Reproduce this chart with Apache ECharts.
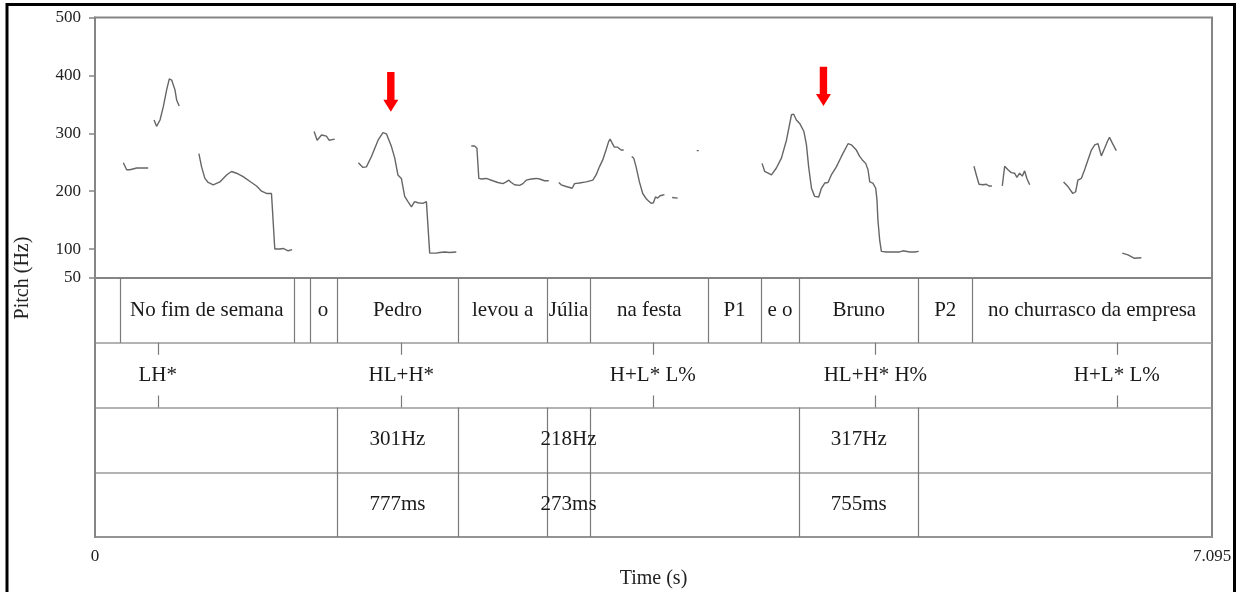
<!DOCTYPE html>
<html>
<head>
<meta charset="utf-8">
<title>Pitch contour with prosodic annotation</title>
<script src="https://cdn.jsdelivr.net/npm/echarts@6/dist/echarts.min.js"></script>
<style>
  html, body { margin: 0; padding: 0; background: #fff; }
  #chart { width: 1244px; height: 592px; }
</style>
</head>
<body>
<div id="chart"></div>
<script>
// ---- Pitch contour segments: [time (s), F0 (Hz)] ----
const segA = [[0.180,249],[0.201,237],[0.222,237],[0.265,240],[0.338,240]];
const segB = [[0.375,323],[0.391,312],[0.413,323],[0.434,346],[0.455,375],[0.472,394],[0.487,392],[0.508,375],[0.519,357],[0.535,347]];
const segC = [[0.660,265],[0.677,242],[0.698,222],[0.719,215],[0.751,211],[0.793,216],[0.836,228],[0.867,234],[0.899,231],[0.941,225],[0.994,215],[1.026,209],[1.058,200],[1.089,196],[1.121,196],[1.128,195],[1.142,100],[1.174,100],[1.195,101],[1.227,97],[1.252,99]];
const segD = [[1.392,303],[1.411,288],[1.439,297],[1.470,295],[1.487,288],[1.523,290]];
const segE = [[1.673,249],[1.702,241],[1.724,242],[1.756,260],[1.798,288],[1.829,301],[1.851,299],[1.883,277],[1.904,257],[1.924,228],[1.946,222],[1.967,191],[1.988,182],[2.010,173],[2.030,182],[2.051,180],[2.083,179],[2.105,182],[2.115,179],[2.126,93],[2.168,93],[2.189,94],[2.221,95],[2.253,94],[2.295,95]];
const segF = [[2.390,278],[2.411,278],[2.426,274],[2.438,222],[2.454,221],[2.485,222],[2.527,218],[2.559,215],[2.591,213],[2.612,216],[2.629,219],[2.644,215],[2.665,211],[2.697,210],[2.718,213],[2.739,219],[2.771,221],[2.803,222],[2.824,221],[2.855,218],[2.882,218]];
const segG = [[2.946,215],[2.961,211],[2.993,208],[3.031,205],[3.046,213],[3.077,214],[3.120,216],[3.162,219],[3.183,228],[3.204,242],[3.225,254],[3.246,271],[3.263,286],[3.272,290],[3.285,283],[3.299,276],[3.320,276],[3.342,271],[3.358,271]];
const segH = [[3.409,260],[3.422,257],[3.437,242],[3.458,216],[3.479,196],[3.504,186],[3.532,179],[3.547,180],[3.560,190],[3.574,188],[3.589,192],[3.602,193],[3.617,194]];
const segI = [[3.666,189],[3.701,188]];
const segJ = [[3.822,270],[3.835,270]];
const segK = [[4.237,248],[4.254,234],[4.297,228],[4.328,240],[4.360,257],[4.392,288],[4.424,332],[4.438,333],[4.455,323],[4.476,317],[4.503,303],[4.519,280],[4.533,242],[4.551,205],[4.571,191],[4.597,190],[4.614,205],[4.635,214],[4.656,215],[4.677,228],[4.709,242],[4.741,260],[4.783,282],[4.804,280],[4.836,271],[4.857,260],[4.874,254],[4.895,248],[4.910,237],[4.921,216],[4.941,214],[4.959,205],[4.967,185],[4.973,150],[4.984,116],[4.995,96],[5.027,95],[5.069,95],[5.111,95],[5.132,97],[5.175,95],[5.206,95],[5.232,96]];
const segL = [[5.583,243],[5.598,228],[5.615,212],[5.640,211],[5.662,212],[5.678,209],[5.697,209]];
const segM = [[5.763,209],[5.778,243],[5.799,237],[5.820,232],[5.841,231],[5.856,224],[5.873,231],[5.890,226],[5.905,235],[5.919,222],[5.937,211]];
const segN = [[6.152,216],[6.180,208],[6.211,196],[6.229,199],[6.243,219],[6.265,222],[6.286,237],[6.307,254],[6.329,271],[6.350,280],[6.371,282],[6.392,261],[6.413,274],[6.434,288],[6.444,293],[6.462,283],[6.487,270]];
const segO = [[6.525,93],[6.561,90],[6.603,84],[6.646,85]];
const contourSegments = [segA, segB, segC, segD, segE, segF, segG, segH, segI, segJ, segK, segL, segM, segN, segO];

// ---- Axes ----
const totalDuration = 7.095;
const pitchTicks = [50, 100, 200, 300, 400, 500];
const timeTicks = [0, 7.095];

// ---- Tier 1: words (interval boundaries and labels) ----
const wordTimes = [0, 0.159, 1.261, 1.363, 1.534, 2.308, 2.870, 3.146, 3.895, 4.229, 4.473, 5.229, 5.572, 7.095];
const wordLabels = ['', 'No fim de semana', '', 'o', 'Pedro', 'levou a', 'Júlia', 'na festa', 'P1', 'e o', 'Bruno', 'P2', 'no churrasco da empresa'];

// ---- Tier 2: tonal events (points) ----
const toneTimes = [0.398, 1.946, 3.543, 4.957, 6.490];
const toneLabels = ['LH*', 'HL+H*', 'H+L* L%', 'HL+H* H%', 'H+L* L%'];

// ---- Tiers 3 and 4: peak F0 and duration of the focused constituents ----
const measureTimes = [0, 1.534, 2.308, 2.870, 3.146, 4.473, 5.229, 7.095];
const peakLabels = ['', '301Hz', '', '218Hz', '', '317Hz', ''];
const durationLabels = ['', '777ms', '', '273ms', '', '755ms', ''];

// ---- Arrows marking the pitch peaks ----
const arrowTimes = [1.879, 4.627];
const arrowTopHz = [406, 415];
const arrowTipHz = [337, 347];

const serif = '"Liberation Serif", "Times New Roman", serif';
const frameGray = '#858585';
const tierGray = '#7a7a7a';

function intervalItems(times, labels, row) {
  const out = [];
  for (let i = 0; i < labels.length; i++) {
    if (labels[i]) out.push([times[i], times[i + 1], row, labels[i]]);
  }
  return out;
}

const tierTextData = []
  .concat(intervalItems(wordTimes, wordLabels, 0))
  .concat(toneTimes.map((t, i) => [t, t, 1, toneLabels[i]]))
  .concat(intervalItems(measureTimes, peakLabels, 2))
  .concat(intervalItems(measureTimes, durationLabels, 3));

const boundaryData = []
  .concat(wordTimes.slice(1, -1).map(t => [t, 0, 1]))
  .concat(measureTimes.slice(1, -1).map(t => [t, 2, 4]));

const chart = echarts.init(document.getElementById('chart'), null, { renderer: 'canvas' });

const pitchSeries = contourSegments.map(seg => ({
  type: 'line',
  xAxisIndex: 0,
  yAxisIndex: 0,
  data: seg,
  showSymbol: false,
  symbol: 'none',
  smooth: false,
  silent: true,
  lineStyle: { color: '#666666', width: 1.4 }
}));

const option = {
  animation: false,
  backgroundColor: '#ffffff',
  grid: [
    { left: 95, right: 32, top: 17.5, height: 260.5, show: true, borderColor: frameGray, borderWidth: 2, backgroundColor: 'transparent', outerBoundsMode: 'none' },
    { left: 95, right: 32, top: 278, height: 259, show: true, borderColor: frameGray, borderWidth: 2, backgroundColor: 'transparent', outerBoundsMode: 'none' }
  ],
  xAxis: [
    { gridIndex: 0, type: 'value', min: 0, max: totalDuration, show: false },
    {
      gridIndex: 1, type: 'value', min: 0, max: totalDuration,
      name: 'Time (s)', nameLocation: 'middle', nameGap: 32,
      nameTextStyle: { fontFamily: serif, fontSize: 20, color: '#222' },
      axisLine: { show: true, lineStyle: { color: frameGray, width: 2 } },
      axisTick: { show: true, inside: false, length: 5, customValues: timeTicks, lineStyle: { color: frameGray, width: 1.5 } },
      axisLabel: {
        show: true, customValues: timeTicks, margin: 11, showMinLabel: true, showMaxLabel: true,
        fontFamily: serif, fontSize: 17, color: '#222',
        formatter: v => (v === 0 ? '0' : v.toFixed(3))
      },
      splitLine: { show: false }
    }
  ],
  yAxis: [
    {
      gridIndex: 0, type: 'value', min: 50, max: 500,
      axisLine: { show: true, lineStyle: { color: frameGray, width: 2 } },
      axisTick: { show: true, inside: false, length: 6, customValues: pitchTicks, lineStyle: { color: frameGray, width: 1.5 } },
      axisLabel: { show: true, customValues: pitchTicks, margin: 14, fontFamily: serif, fontSize: 17, color: '#222' },
      splitLine: { show: false }
    },
    {
      gridIndex: 1, type: 'value', min: 0, max: 4, interval: 1, inverse: true,
      axisLine: { show: true, lineStyle: { color: frameGray, width: 2 } },
      axisTick: { show: false },
      axisLabel: { show: false },
      splitLine: { show: true, lineStyle: { color: '#9a9a9a', width: 1.5 } }
    }
  ],
  graphic: [
    {
      type: 'rect', silent: true, z: 100,
      shape: { x: 7, y: 4.5, width: 1227.5, height: 620 },
      style: { fill: 'none', stroke: '#000', lineWidth: 3 }
    },
    {
      type: 'text', silent: true, x: 23, y: 278, rotation: Math.PI / 2,
      style: { text: 'Pitch (Hz)', align: 'center', verticalAlign: 'middle', font: '20px ' + serif, fill: '#222' }
    }
  ],
  series: pitchSeries.concat([
    // interval boundaries of tiers 1, 3 and 4
    {
      type: 'custom', xAxisIndex: 1, yAxisIndex: 1, silent: true,
      data: boundaryData,
      renderItem: (params, api) => {
        const a = api.coord([api.value(0), api.value(1)]);
        const b = api.coord([api.value(0), api.value(2)]);
        return {
          type: 'line',
          shape: { x1: Math.round(a[0]) + 0.5, y1: a[1], x2: Math.round(a[0]) + 0.5, y2: b[1] },
          style: { stroke: tierGray, lineWidth: 1.2 }
        };
      }
    },
    // point marks of the tonal tier
    {
      type: 'custom', xAxisIndex: 1, yAxisIndex: 1, silent: true,
      data: toneTimes.map(t => [t]),
      renderItem: (params, api) => {
        const top = api.coord([api.value(0), 1]);
        const bot = api.coord([api.value(0), 2]);
        const x = Math.round(top[0]) + 0.5;
        return {
          type: 'group',
          children: [
            { type: 'line', shape: { x1: x, y1: top[1], x2: x, y2: top[1] + 12 }, style: { stroke: tierGray, lineWidth: 1.2 } },
            { type: 'line', shape: { x1: x, y1: bot[1] - 12, x2: x, y2: bot[1] }, style: { stroke: tierGray, lineWidth: 1.2 } }
          ]
        };
      }
    },
    // tier texts
    {
      type: 'custom', xAxisIndex: 1, yAxisIndex: 1, silent: true, z: 5,
      data: tierTextData,
      renderItem: (params, api) => {
        const item = tierTextData[params.dataIndex];
        const c = api.coord([(item[0] + item[1]) / 2, item[2] + 0.5]);
        return {
          type: 'text',
          style: { text: item[3], x: c[0], y: c[1], align: 'center', verticalAlign: 'middle', font: '21px ' + serif, fill: '#1a1a1a' }
        };
      }
    },
    // red arrows above the pitch peaks
    {
      type: 'custom', xAxisIndex: 0, yAxisIndex: 0, silent: true, z: 10,
      data: arrowTimes.map((t, i) => [t, arrowTopHz[i], arrowTipHz[i]]),
      renderItem: (params, api) => {
        const top = api.coord([api.value(0), api.value(1)]);
        const tip = api.coord([api.value(0), api.value(2)]);
        const x = top[0];
        const headStart = tip[1] - 12;
        return {
          type: 'polygon',
          shape: {
            points: [
              [x - 3.7, top[1]], [x + 3.7, top[1]], [x + 3.7, headStart], [x + 7.5, headStart],
              [x, tip[1]], [x - 7.5, headStart], [x - 3.7, headStart]
            ]
          },
          style: { fill: '#ff0000' }
        };
      }
    }
  ])
};

chart.setOption(option);
</script>
</body>
</html>
